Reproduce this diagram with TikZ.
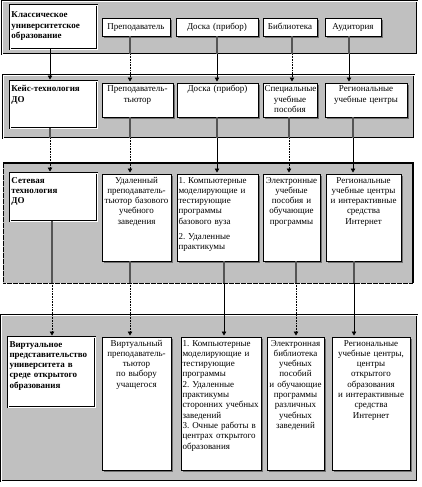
\documentclass[tikz,border=0pt]{standalone}
\usepackage{fontspec}
\setmainfont{Liberation Serif}
\usetikzlibrary{arrows.meta,shadows}
\definecolor{panelgray}{RGB}{192,192,192}
\definecolor{shadowgray}{RGB}{112,112,112}
\definecolor{linegray}{RGB}{85,85,85}
\frenchspacing
\tikzset{
  txt/.style={font=\fontsize{9}{10.3}\selectfont},
  boxbase/.style={draw=black, fill=white, line width=0.6pt, outer sep=0pt, anchor=north west,
    inner xsep=1.5pt, inner ysep=2pt, txt},
  cbox/.style={boxbase, align=center,
    general shadow={fill=shadowgray, shadow xshift=1.6pt, shadow yshift=-1.6pt}},
  lbox/.style={boxbase, align=left,
    general shadow={fill=shadowgray, shadow xshift=1.6pt, shadow yshift=-1.6pt}},
  leftbox/.style={boxbase, align=left, font=\fontsize{9}{10.3}\selectfont\bfseries,
    line width=0.8pt, double=white, double distance=0.9pt},
  panel/.style={fill=panelgray, anchor=north west, inner sep=0pt, outer sep=0pt},
  dpanel/.style={panel, draw=black, line width=0.5pt, double=white, double distance=0.8pt},
  gline/.style={draw=linegray, line width=1.3pt},
  conn/.style={draw=black, line width=0.6pt, -{Triangle[length=4pt,width=4.5pt]}, shorten >=1.5pt},
  dconn/.style={conn, dash pattern=on 0.8pt off 0.8pt},
}
% #1 style, #2 name, #3 x1, #4 y1, #5 x2, #6 y2, #7 baseline offset, #8 text
\newcommand\bx[8]{%
  \pgfmathsetmacro\bxw{#5-#3-3}%
  \pgfmathsetmacro\bxh{#7-2}%
  \pgfmathsetmacro\bxd{#6-#4-#7-2}%
  \node[#1, text width=\bxw pt, text height=\bxh pt, text depth=\bxd pt] (#2) at (#3,#4) {#8};%
}
\begin{document}
\begin{tikzpicture}[x=1pt,y=-1pt]
\useasboundingbox (0,0) rectangle (422,487);
% panels
\node[dpanel, minimum width=415pt, minimum height=53pt] (p1) at (2,1) {};
\node[dpanel, minimum width=411pt, minimum height=63pt] (p2) at (3,75) {};
\node[panel, draw=black, dash pattern=on 0.6pt off 0.6pt, line width=0.5pt, minimum width=410pt, minimum height=120pt] (p3) at (3,163) {};
\draw[line width=1.6pt] (p3.north west) -- (p3.north east) -- (p3.south east);
\node[dpanel, minimum width=416pt, minimum height=166pt] (p4) at (1,315) {};

% panel 1
\bx{leftbox}{L1}{10}{5}{97}{49}{13}{Классическое\\университетское\\образование}
\bx{cbox}{b12}{102}{18}{170}{36}{12}{Преподаватель}
\bx{cbox}{b13}{176}{18}{258}{36}{12}{Доска (прибор)}
\bx{cbox}{b14}{263}{18}{317}{36}{12}{Библиотека}
\bx{cbox}{b15}{325}{18}{381}{36}{12}{Аудитория}

% panel 2
\bx{leftbox}{L2}{10}{81}{97}{128}{11}{Кейс-технология\\ДО}
\bx{cbox}{b22}{102}{83}{173}{117}{9}{Преподаватель-\\тьютор}
\bx{cbox}{b23}{177}{83}{258}{117}{9}{Доска (прибор)}
\bx{cbox}{b24}{263}{83}{317}{117}{9}{Специальные\\учебные\\пособия}
\bx{cbox}{b25}{325}{83}{407}{117}{9}{Региональные\\учебные центры}

% panel 3
\bx{leftbox}{L3}{10}{173}{97}{221}{10}{Сетевая\\технология\\ДО}
\bx{cbox}{b32}{102}{174}{171}{261}{9}{Удаленный\\преподаватель-\\тьютор базового\\учебного\\заведения}
\bx{lbox}{b33}{177}{174}{258}{261}{9}{1. Компьютерные\\моделирующие и\\тестирующие\\программы\\базового вуза\\[4.5pt]2. Удаленные\\практикумы}
\bx{cbox}{b34}{263}{174}{320}{261}{9}{Электронные\\учебные\\пособия и\\обучающие\\программы}
\bx{cbox}{b35}{326}{174}{401}{261}{9}{Региональные\\учебные центры\\и интерактивные\\средства\\Интернет}

% panel 4
\bx{leftbox}{L4}{8}{337}{95}{407}{10}{Виртуальное\\представительство\\университета в\\среде открытого\\образования}
\bx{cbox}{b42}{102}{337}{171}{470}{9}{Виртуальный\\преподаватель-\\тьютор\\по выбору\\учащегося}
\bx{lbox}{b43}{181}{337}{261}{470}{9}{1. Компьютерные\\моделирующие и\\тестирующие\\программы\\2. Удаленные\\практикумы\\сторонних учебных\\заведений\\3. Очные работы в\\центрах открытого\\образования}
\bx{cbox}{b44}{267}{337}{324}{470}{9}{Электронная\\библиотека\\учебных\\пособий\\и обучающие\\программы\\различных\\учебных\\заведений}
\bx{cbox}{b45}{332}{337}{410}{470}{9}{Региональные\\учебные центры,\\центры\\открытого\\образования\\и интерактивные\\средства\\Интернет}

% connector points on panel bottoms
\coordinate (c11) at (50,54);  \coordinate (c12) at (130,54);
\coordinate (c13) at (217,54); \coordinate (c14) at (292,54);
\coordinate (c15) at (349,54);
\coordinate (c21) at (50,138);  \coordinate (c22) at (130,138);
\coordinate (c23) at (217,138); \coordinate (c24) at (289,138);
\coordinate (c25) at (353,138);
\coordinate (c31) at (52,283);  \coordinate (c32) at (130,283);
\coordinate (c33) at (224,283); \coordinate (c34) at (296,283);
\coordinate (c35) at (354,283);

% stage 1 -> 2
\draw[draw=black, line width=0.6pt] (L1.south -| c11) -- (c11);
\draw[gline] (b12.south -| c12) -- (c12);
\draw[gline] (b13.south -| c13) -- (c13);
\draw[gline] (b14.south -| c14) -- (c14);
\draw[gline] (b15.south -| c15) -- (c15);
\draw[conn]  (c11) -- (L2.north -| c11);
\draw[dconn] (c12) -- (b22.north -| c12);
\draw[conn]  (c13) -- (b23.north -| c13);
\draw[dconn] (c14) -- (b24.north -| c14);
\draw[conn]  (c15) -- (b25.north -| c15);

% stage 2 -> 3
\draw[gline] (L2.south -| c21) -- (c21);
\draw[gline] (b22.south -| c22) -- (c22);
\draw[gline] (b23.south -| c23) -- (c23);
\draw[gline] (b24.south -| c24) -- (c24);
\draw[gline] (b25.south -| c25) -- (c25);
\draw[dconn] (c21) -- (L3.north -| c21);
\draw[dconn] (c22) -- (b32.north -| c22);
\draw[conn]  (c23) -- (b33.north -| c23);
\draw[dconn] (c24) -- (b34.north -| c24);
\draw[conn]  (c25) -- (b35.north -| c25);

% stage 3 -> 4
\draw[gline] (L3.south -| c31) -- (c31);
\draw[gline] (b32.south -| c32) -- (c32);
\draw[gline] (b33.south -| c33) -- (c33);
\draw[gline] (b34.south -| c34) -- (c34);
\draw[gline] (b35.south -| c35) -- (c35);
\draw[dconn] (c31) -- (L4.north -| c31);
\draw[dconn] (c32) -- (b42.north -| c32);
\draw[conn]  (c33) -- (b43.north -| c33);
\draw[dconn] (c34) -- (b44.north -| c34);
\draw[conn]  (c35) -- (b45.north -| c35);
\end{tikzpicture}
\end{document}
